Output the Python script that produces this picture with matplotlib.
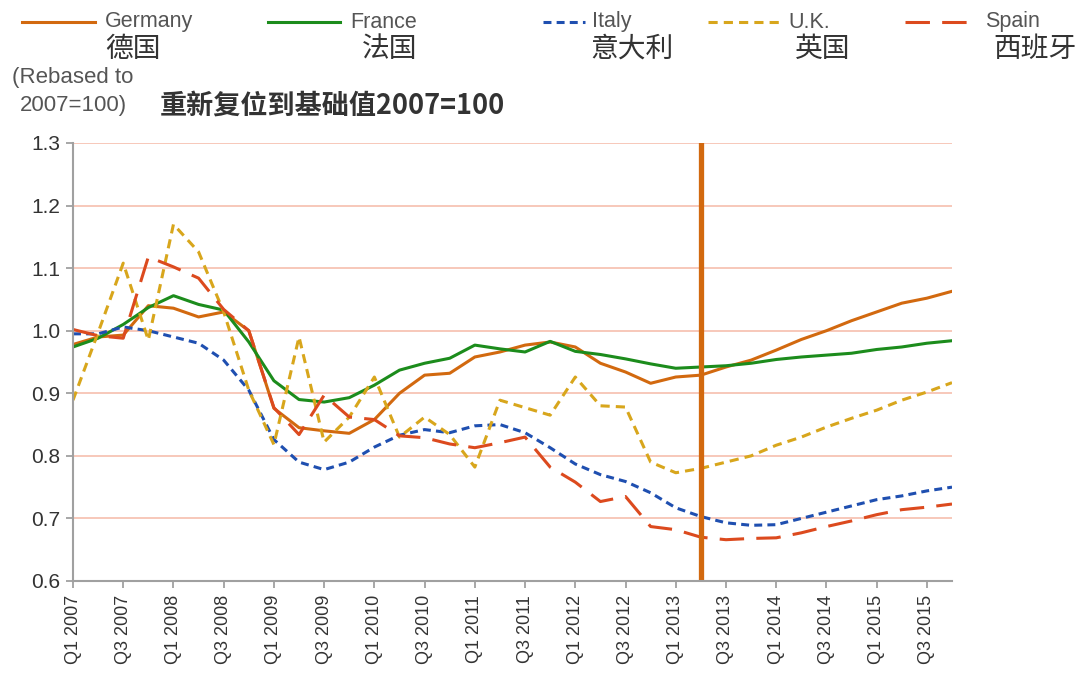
"""
Eurozone economies vs UK, rebased to 2007=100
"""

import matplotlib
matplotlib.use("Agg")
import matplotlib.pyplot as plt
from matplotlib.lines import Line2D

plt.rcParams["font.family"] = ["Liberation Sans", "Noto Sans CJK SC", "DejaVu Sans"]

# ----------------------------------------------------------------------
# Data
# ----------------------------------------------------------------------

years = list(range(2007, 2016))
quarters = [f"Q{q} {y}" for y in years for q in range(1, 5)]

germany = [0.978, 0.990, 0.993, 1.040, 1.036, 1.022, 1.030, 1.000, 0.876, 0.845,
           0.840, 0.836, 0.858, 0.900, 0.929, 0.932, 0.958, 0.966, 0.977, 0.982,
           0.974, 0.948, 0.934, 0.916, 0.926, 0.929, 0.942, 0.953, 0.969, 0.986,
           1.000, 1.016, 1.030, 1.044, 1.052, 1.063]
france = [0.974, 0.988, 1.010, 1.037, 1.056, 1.042, 1.033, 0.982, 0.920, 0.890,
          0.886, 0.893, 0.913, 0.937, 0.948, 0.956, 0.977, 0.971, 0.966, 0.983,
          0.967, 0.962, 0.955, 0.947, 0.940, 0.942, 0.944, 0.948, 0.954, 0.958,
          0.961, 0.964, 0.970, 0.974, 0.980, 0.984]
italy = [0.995, 0.995, 1.006, 1.000, 0.990, 0.980, 0.953, 0.905, 0.826, 0.790,
         0.778, 0.790, 0.814, 0.833, 0.842, 0.837, 0.848, 0.850, 0.837, 0.813,
         0.787, 0.770, 0.759, 0.741, 0.717, 0.703, 0.693, 0.689, 0.690, 0.700,
         0.710, 0.720, 0.730, 0.736, 0.744, 0.750]
uk = [0.889, 0.997, 1.108, 0.985, 1.170, 1.126, 1.030, 0.905, 0.818, 0.990,
      0.822, 0.862, 0.926, 0.830, 0.862, 0.834, 0.782, 0.889, 0.877, 0.865,
      0.926, 0.880, 0.878, 0.790, 0.773, 0.780, 0.790, 0.800, 0.817, 0.830,
      0.846, 0.860, 0.873, 0.889, 0.902, 0.917]
spain = [1.002, 0.992, 0.988, 1.118, 1.102, 1.084, 1.034, 1.000, 0.877, 0.834,
         0.897, 0.862, 0.858, 0.832, 0.829, 0.819, 0.813, 0.821, 0.830, 0.782,
         0.758, 0.727, 0.735, 0.687, 0.682, 0.670, 0.666, 0.668, 0.669, 0.677,
         0.687, 0.696, 0.706, 0.714, 0.718, 0.723]

names_en = ["Germany", "France", "Italy", "U.K.", "Spain"]
names_cn = ["德国", "法国", "意大利", "英国", "西班牙"]
marker_quarter = "Q2 2013"

# ----------------------------------------------------------------------
# Styles
# ----------------------------------------------------------------------

ORANGE = "#d2690f"
colors = [ORANGE, "#1c8c1c", "#1f4fb0", "#d8a61c", "#dc4a1e"]
dashes = [None, None, (2.6, 1.7), (3.0, 2.0), (8.0, 4.0)]
series = [germany, france, italy, uk, spain]

W, H = 1082, 684
fig = plt.figure(figsize=(W / 100, H / 100), dpi=100)
ax = fig.add_axes([73 / W, 1 - 581 / H, (952 - 73) / W, (581 - 143) / H])

x = list(range(len(quarters)))
for vals, c, d in zip(series, colors, dashes):
    line, = ax.plot(x, vals, color=c, lw=2.2, solid_joinstyle="round")
    if d is not None:
        line.set_dashes(d)

ax.axvline(quarters.index(marker_quarter), color=ORANGE, lw=3.8)

ax.set_xlim(0, len(quarters) - 1)
ax.set_ylim(0.6, 1.3)
ax.set_yticks([0.6, 0.7, 0.8, 0.9, 1.0, 1.1, 1.2, 1.3])
ax.set_yticklabels([f"{v:.1f}" for v in ax.get_yticks()])
ax.set_xticks(x[::2])
ax.set_xticklabels(quarters[::2], rotation=90)

for yv in [0.7, 0.8, 0.9, 1.0, 1.1, 1.2, 1.3]:
    ax.axhline(yv, color="#f7c4b4", lw=1.3, zorder=0)

for side in ["top", "right"]:
    ax.spines[side].set_visible(False)
for side in ["left", "bottom"]:
    ax.spines[side].set_color("#a0a0a0")
    ax.spines[side].set_linewidth(1.5)
ax.tick_params(axis="both", colors="#a0a0a0", width=1.3, length=5, labelcolor="#333333")
ax.tick_params(axis="y", labelsize=15, pad=4)
ax.tick_params(axis="x", labelsize=13, pad=5)

# ----------------------------------------------------------------------
# Legend drawn by hand on top (two-language labels)
# ----------------------------------------------------------------------

def fx(px):
    return px / W


def fy(py):
    return 1 - py / H


handle_x = [(22, 95), (268, 340), (543, 585), (708, 780), (905, 975)]
text_x = [105, 350, 592, 788, 985]
cn_x = [105, 362, 590, 795, 993]

for i, name in enumerate(names_en):
    x0, x1 = handle_x[i]
    ln = Line2D([fx(x0), fx(x1)], [fy(22), fy(22)], transform=fig.transFigure,
                color=colors[i], lw=2.2)
    if dashes[i] is not None:
        ln.set_dashes(dashes[i])
    fig.add_artist(ln)
    fig.text(fx(text_x[i]), fy(22), name, fontsize=15.5, color="#555555",
             ha="left", va="center")
    fig.text(fx(cn_x[i]), fy(49), names_cn[i], fontsize=20, color="#333333",
             ha="left", va="center", family=["Noto Sans CJK SC", "DejaVu Sans"])

fig.text(fx(12), fy(78), "(Rebased to", fontsize=16, color="#555555",
         ha="left", va="center")
fig.text(fx(20), fy(106), "2007=100)", fontsize=16, color="#555555",
         ha="left", va="center")
fig.text(fx(160), fy(106), "重新复位到基础值2007=100", fontsize=19.5, color="#333333",
         ha="left", va="center", fontweight="bold",
         family=["Noto Sans CJK SC", "DejaVu Sans"])

fig.savefig("out.png", dpi=100)
plt.close(fig)
